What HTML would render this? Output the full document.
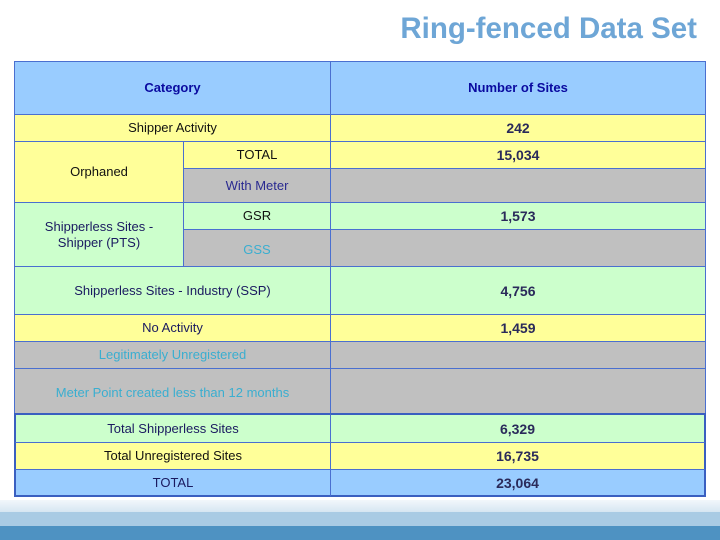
<!DOCTYPE html>
<html><head><meta charset="utf-8"><style>
body{margin:0;width:720px;height:540px;position:relative;overflow:hidden;background:#fff;font-family:"Liberation Sans",Arial,sans-serif}
.c{position:absolute;box-sizing:border-box;border:1px solid #4a6fd0;display:flex;align-items:center;justify-content:center;text-align:center;font-size:13px;color:#111;line-height:16px}
.y{background:#ffff99}.g{background:#ccffcc}.s{background:#c0c0c0}.b{background:#99ccff}
.v{font-weight:bold;font-size:14px;color:#2a2a5a}
.h{font-weight:bold;color:#0a0aa0}
</style></head><body>
<div style="position:absolute;right:23px;top:12px;font-size:29.5px;font-weight:bold;color:#6ea6d6;white-space:nowrap">Ring-fenced Data Set</div>
<div>
<div class="c b h" style="left:14px;top:61px;width:317px;height:54px">Category</div>
<div class="c b h" style="left:330px;top:61px;width:376px;height:54px">Number of Sites</div>
<div class="c y" style="left:14px;top:114px;width:317px;height:28px">Shipper Activity</div>
<div class="c y v" style="left:330px;top:114px;width:376px;height:28px">242</div>
<div class="c y" style="left:14px;top:141px;width:170px;height:62px">Orphaned</div>
<div class="c y" style="left:183px;top:141px;width:148px;height:28px">TOTAL</div>
<div class="c y v" style="left:330px;top:141px;width:376px;height:28px">15,034</div>
<div class="c s" style="left:183px;top:168px;width:148px;height:35px;color:#2a2a90">With Meter</div>
<div class="c s" style="left:330px;top:168px;width:376px;height:35px"></div>
<div class="c g" style="left:14px;top:202px;width:170px;height:65px;color:#1a1a60">Shipperless Sites -<br>Shipper (PTS)</div>
<div class="c g" style="left:183px;top:202px;width:148px;height:28px">GSR</div>
<div class="c g v" style="left:330px;top:202px;width:376px;height:28px">1,573</div>
<div class="c s" style="left:183px;top:229px;width:148px;height:38px;color:#3aaed0;padding-top:4px">GSS</div>
<div class="c s" style="left:330px;top:229px;width:376px;height:38px"></div>
<div class="c g" style="left:14px;top:266px;width:317px;height:49px;color:#1a1a60">Shipperless Sites - Industry (SSP)</div>
<div class="c g v" style="left:330px;top:266px;width:376px;height:49px">4,756</div>
<div class="c y" style="left:14px;top:314px;width:317px;height:28px;color:#1a1a60">No Activity</div>
<div class="c y v" style="left:330px;top:314px;width:376px;height:28px">1,459</div>
<div class="c s" style="left:14px;top:341px;width:317px;height:28px;color:#3aaed0">Legitimately Unregistered</div>
<div class="c s" style="left:330px;top:341px;width:376px;height:28px"></div>
<div class="c s" style="left:14px;top:368px;width:317px;height:46px;color:#3aaed0;padding-top:3px">Meter Point created less than 12 months</div>
<div class="c s" style="left:330px;top:368px;width:376px;height:46px"></div>
<div class="c g" style="left:14px;top:413px;width:317px;height:30px;border-top:2px solid #3a5fc0;border-left:2px solid #3a5fc0;color:#1a1a60">Total Shipperless Sites</div>
<div class="c g v" style="left:330px;top:413px;width:376px;height:30px;border-top:2px solid #3a5fc0;border-right:2px solid #3a5fc0">6,329</div>
<div class="c y" style="left:14px;top:442px;width:317px;height:28px;border-left:2px solid #3a5fc0">Total Unregistered Sites</div>
<div class="c y v" style="left:330px;top:442px;width:376px;height:28px;border-right:2px solid #3a5fc0">16,735</div>
<div class="c b" style="left:14px;top:469px;width:317px;height:28px;border-left:2px solid #3a5fc0;border-bottom:2px solid #3a5fc0;color:#1a1a60">TOTAL</div>
<div class="c b v" style="left:330px;top:469px;width:376px;height:28px;border-right:2px solid #3a5fc0;border-bottom:2px solid #3a5fc0">23,064</div>
</div>
<div style="position:absolute;left:0;top:500px;width:720px;height:12px;background:linear-gradient(#f2f7fb,#d6e6f2)"></div>
<div style="position:absolute;left:0;top:512px;width:720px;height:14px;background:#a9cbe4"></div>
<div style="position:absolute;left:0;top:526px;width:720px;height:14px;background:#4e92c2"></div>
</body></html>
